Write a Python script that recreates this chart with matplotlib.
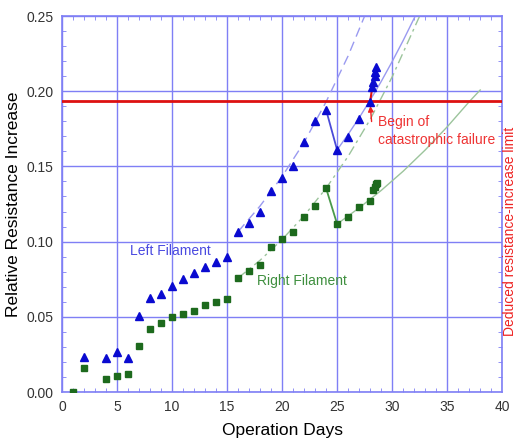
import numpy as np
import matplotlib.pyplot as plt
from matplotlib.ticker import MultipleLocator

plt.rcParams['font.family'] = ['Liberation Sans', 'DejaVu Sans']

# ===== Данные =====
# левая нить (треугольники)
left_days = [2, 4, 5, 6, 7, 8, 9, 10, 11, 12, 13, 14, 15, 16, 17, 18, 19, 20,
             21, 22, 23, 24, 25, 26, 27, 28, 28.2, 28.25, 28.4, 28.45, 28.5]
left_vals = [0.0235, 0.0226, 0.0264, 0.0226, 0.0505, 0.0623, 0.0652, 0.0705,
             0.0754, 0.0793, 0.0833, 0.0864, 0.0895, 0.1066, 0.1126, 0.1199,
             0.1339, 0.1425, 0.1505, 0.1664, 0.1804, 0.1875, 0.1609, 0.1698,
             0.1815, 0.1930, 0.2030, 0.2060, 0.2100, 0.2130, 0.2160]

# правая нить (квадраты)
right_days = [1, 2, 4, 5, 6, 7, 8, 9, 10, 11, 12, 13, 14, 15, 16, 17, 18, 19,
              20, 21, 22, 23, 24, 25, 26, 27, 28, 28.3, 28.4, 28.5, 28.6]
right_vals = [0.0, 0.0157, 0.0084, 0.0108, 0.0117, 0.0306, 0.0419, 0.0457,
              0.0497, 0.0516, 0.0536, 0.0576, 0.0598, 0.0616, 0.0758, 0.0807,
              0.0847, 0.0966, 0.1017, 0.1066, 0.1166, 0.1237, 0.1354, 0.1117,
              0.1166, 0.1228, 0.1272, 0.1340, 0.1360, 0.1380, 0.1390]

# тренды (точки, считанные вдоль кривых)
left_fit1_days = [16, 18, 20, 22, 24, 26, 27.5]
left_fit1_vals = [0.1066, 0.1237, 0.1433, 0.1660, 0.1930, 0.2235, 0.2500]
left_fit2_days = [25, 26, 27, 28, 29, 30, 31, 32.1]
left_fit2_vals = [0.161, 0.1713, 0.1823, 0.194, 0.2064, 0.2197, 0.2337, 0.250]
left_drop_days = [24, 25]
left_drop_vals = [0.1875, 0.1609]

right_fit1_days = [16, 18, 20, 22, 24, 26, 28, 30, 32.5]
right_fit1_vals = [0.0758, 0.0876, 0.1014, 0.1172, 0.1355, 0.1567, 0.1812,
                   0.2095, 0.2500]
right_fit2_days = [25, 27, 29, 31, 33, 35, 37, 38]
right_fit2_vals = [0.1117, 0.1224, 0.1340, 0.1468, 0.1609, 0.1763, 0.1930,
                   0.2008]
right_drop_days = [24, 25]
right_drop_vals = [0.1354, 0.1117]

limit = 0.1935
failure_day, failure_val = 28, 0.193

grid_col = '#7f7ff5'

fig = plt.figure(figsize=(5.17, 4.41), dpi=100)
ax = fig.add_axes([0.1199, 0.1111, 0.8515, 0.8526])

# тренды
ax.plot(left_fit1_days, left_fit1_vals, color='#9a9af0', lw=1, ls=(0, (7, 4)))
ax.plot(left_fit2_days, left_fit2_vals, color='#9a9af0', lw=1)
ax.plot(left_drop_days, left_drop_vals, color='#4a4ad8', lw=1.3)
ax.plot(right_fit1_days, right_fit1_vals, color='#9cc49c', lw=1,
        ls=(0, (7, 3, 2, 3)))
ax.plot(right_fit2_days, right_fit2_vals, color='#9cc49c', lw=1)
ax.plot(right_drop_days, right_drop_vals, color='#4a9a4a', lw=1.3)

# предел
ax.axhline(limit, color='#dd1111', lw=2, zorder=3)
ax.plot([28, 28.2], [0.193, 0.203], color='#dd1111', lw=1.5, zorder=3)

# точки
ax.plot(left_days, left_vals, ls='none', marker='^', ms=5.5, color='#0a0ad0',
        zorder=4)
ax.plot(right_days, right_vals, ls='none', marker='s', ms=5, color='#1d6a1d',
        zorder=4)

# подписи
ax.text(6.2, 0.0935, 'Left Filament', color='#4a4ae0', fontsize=10, va='center')
ax.text(17.7, 0.0738, 'Right Filament', color='#3f8f3f', fontsize=10,
        va='center')
ax.annotate('', xy=(failure_day, failure_val - 0.001),
            xytext=(28.15, 0.178),
            arrowprops=dict(arrowstyle='-|>', color='#ee2222', lw=1,
                            mutation_scale=8))
ax.text(28.7, 0.1736, 'Begin of\ncatastrophic failure', color='#ee3333',
        fontsize=10, va='center', linespacing=1.3)

fig.text(0.987, 0.476, 'Deduced resistance-increase limit', color='#ee2222',
         fontsize=10, rotation=90, ha='center', va='center')

ax.set_xlim(0, 40)
ax.set_ylim(0, 0.25)
ax.xaxis.set_major_locator(MultipleLocator(5))
ax.xaxis.set_minor_locator(MultipleLocator(1))
ax.yaxis.set_major_locator(MultipleLocator(0.05))
ax.yaxis.set_minor_locator(MultipleLocator(0.01))
ax.set_yticklabels([f'{v:.2f}' for v in ax.get_yticks()])
ax.grid(True, which='major', color=grid_col, lw=1)
ax.tick_params(which='both', direction='in', top=True, right=True,
               color=grid_col, labelsize=10, labelcolor='#333333')
ax.tick_params(which='major', length=0, pad=6)
ax.tick_params(which='minor', length=3)
for s in ax.spines.values():
    s.set_color(grid_col)
    s.set_linewidth(1.2)

ax.set_xlabel('Operation Days', fontsize=12.5, labelpad=6)
ax.set_ylabel('Relative Resistance Increase', fontsize=12.5, labelpad=4)

plt.savefig('out.png', dpi=100)
